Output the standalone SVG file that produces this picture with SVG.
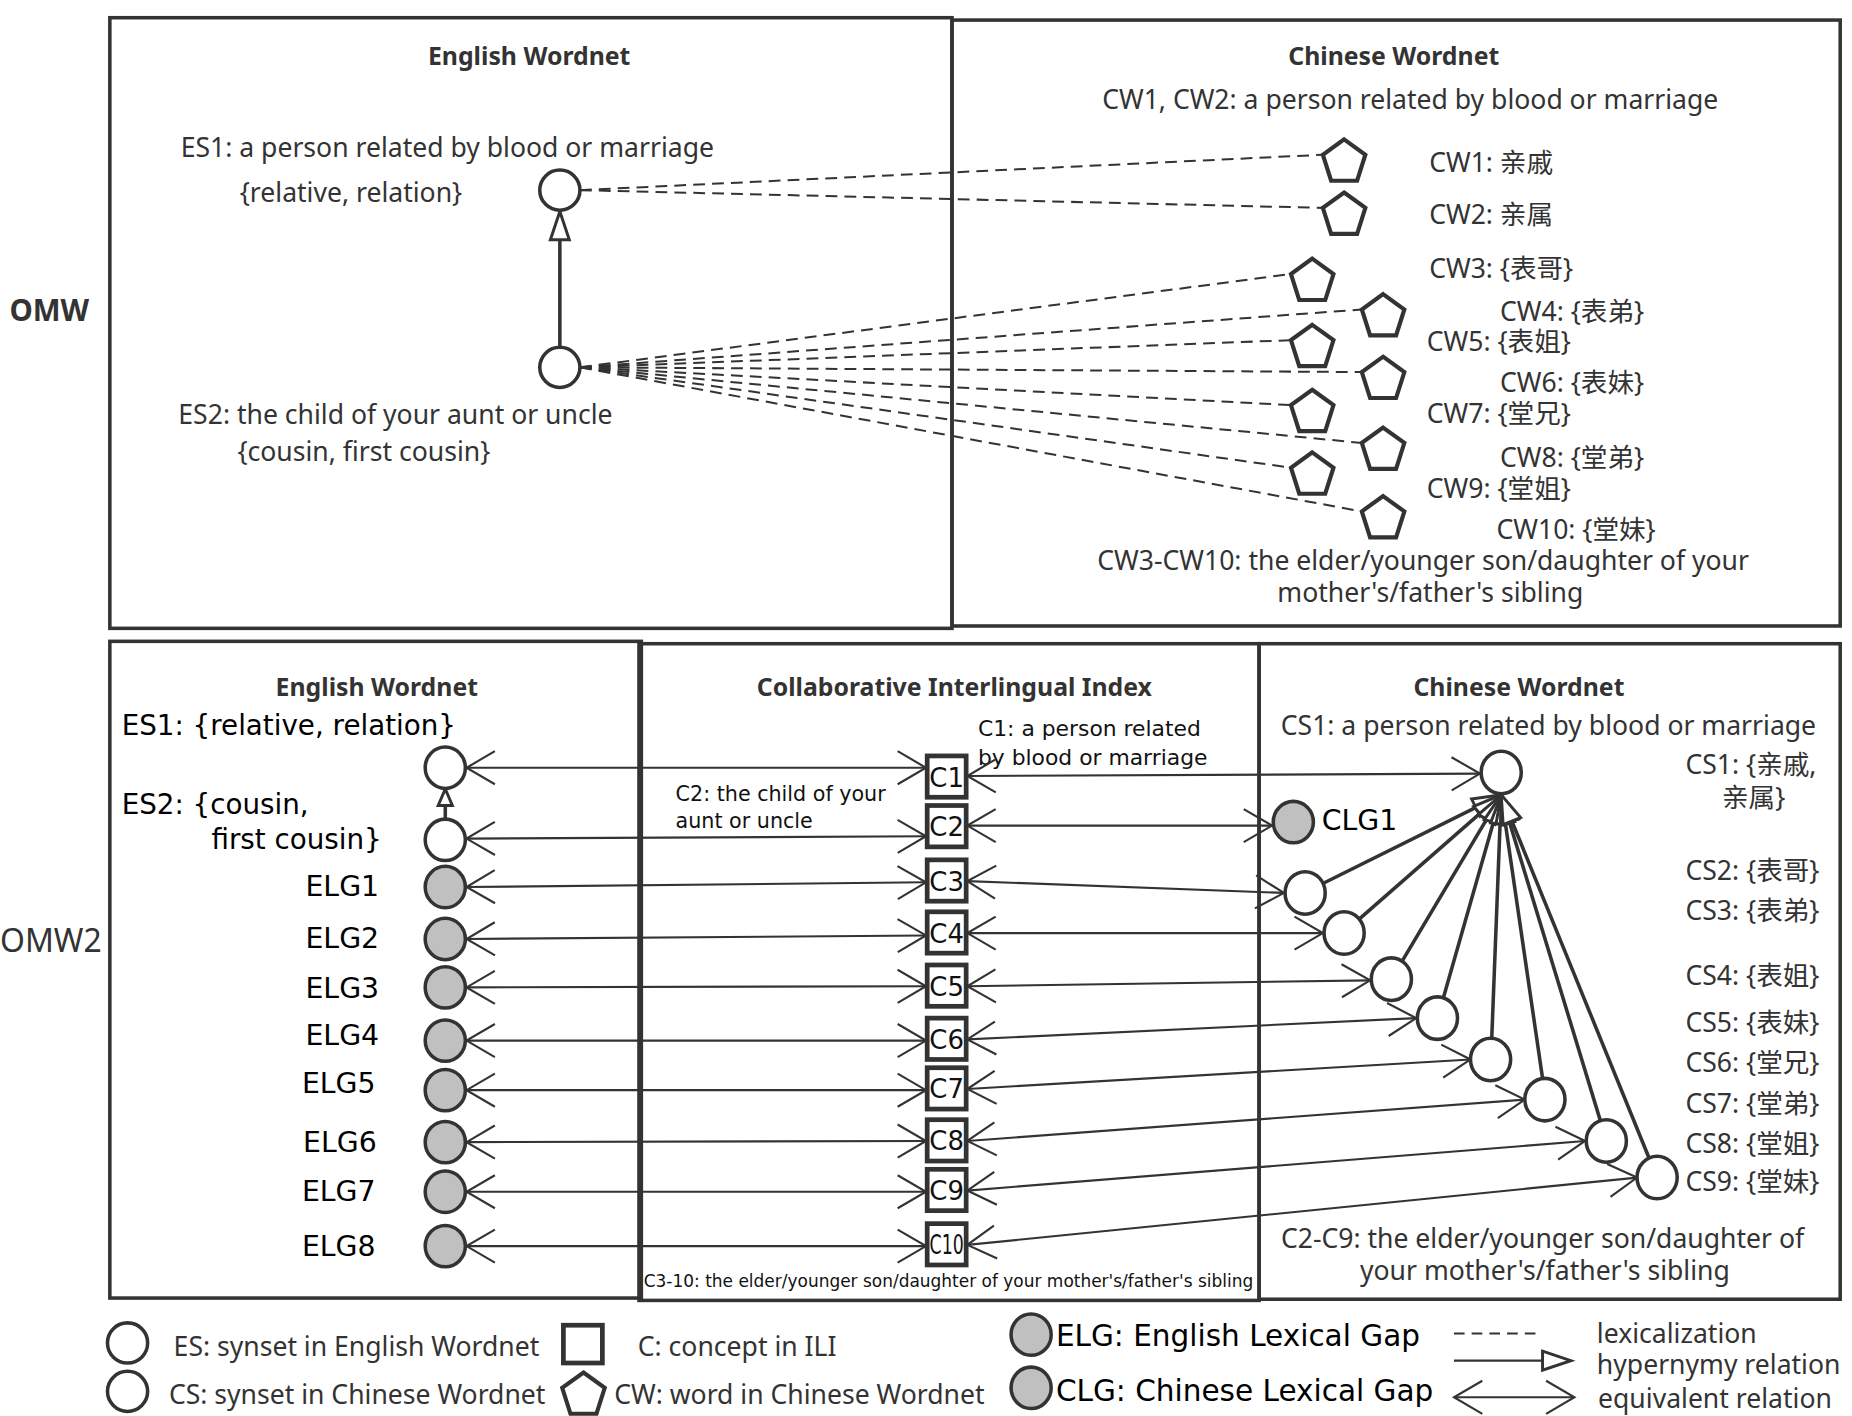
<svg xmlns="http://www.w3.org/2000/svg" xmlns:xlink="http://www.w3.org/1999/xlink" width="1852" height="1416" viewBox="0 0 1852 1416">
<style>
.frame{fill:none;stroke:#333;stroke-width:3}
.node{fill:#fff;stroke:#333;stroke-width:3}
.gap{fill:#c0c0c0;stroke:#333;stroke-width:3}
.cbox{fill:#fff;stroke:#333;stroke-width:4}
.pent{fill:#fff;stroke:#333;stroke-width:3.5;stroke-linejoin:miter}
.dash{fill:none;stroke:#333;stroke-width:1.7;stroke-dasharray:10 6}
.eq{fill:none;stroke:#333;stroke-width:1.8;marker-start:url(#v);marker-end:url(#v)}
.hyp{fill:none;stroke:#333;stroke-width:3;marker-end:url(#tri)}
.t{font-family:"Noto Sans","Noto Sans CJK SC",sans-serif;fill:#333;font-size:22.5px}
.b{font-weight:bold;font-size:21px}
.d{font-family:"DejaVu Sans","Noto Sans CJK SC",sans-serif;fill:#000}
.ctx{font-family:"DejaVu Sans",sans-serif;fill:#111;font-size:22px;text-anchor:middle}
</style>
<defs>
<marker id="v" markerUnits="userSpaceOnUse" viewBox="-30 -20 34 40" markerWidth="34" markerHeight="40" refX="0" refY="0" orient="auto-start-reverse" overflow="visible">
<path d="M-24,-14 L0,0 L-24,14" fill="none" stroke="#333" stroke-width="1.8"/>
</marker>
<marker id="tri" markerUnits="userSpaceOnUse" viewBox="-30 -12 34 24" markerWidth="34" markerHeight="24" refX="0" refY="0" orient="auto" overflow="visible">
<path d="M-24,-8 L0,0 L-24,8 Z" fill="#fff" stroke="#333" stroke-width="2.5"/>
</marker>
<marker id="tris" markerUnits="userSpaceOnUse" viewBox="-20 -10 24 20" markerWidth="24" markerHeight="20" refX="0" refY="0" orient="auto" overflow="visible">
<path d="M-14,-6 L0,0 L-14,6 Z" fill="#fff" stroke="#333" stroke-width="2.5"/>
</marker>
<path id="pg" d="M0,-19 L18,-6 L11,16 L-11,16 L-18,-6 Z"/>
</defs>
<rect width="1852" height="1416" fill="#fff"/>
<g transform="scale(1.18112)">
<g id="frames">
<rect class="frame" x="93" y="15" width="713" height="517"/>
<rect class="frame" x="806" y="17" width="752" height="513"/>
<rect class="frame" x="93" y="543" width="450" height="556"/>
<rect class="frame" x="541" y="545" width="525" height="556"/>
<rect class="frame" x="1066" y="545" width="492" height="555"/>
</g>
<g id="section-labels">
<text class="t" x="8" y="272" style="font-weight:bold;font-size:25px">OMW</text>
<text class="t" x="0" y="806" style="font-size:27px">OMW2</text>
<text class="t b" x="448" y="55" text-anchor="middle">English Wordnet</text>
<text class="t b" x="1180" y="55" text-anchor="middle">Chinese Wordnet</text>
<text class="t" x="1194" y="92" text-anchor="middle">CW1, CW2: a person related by blood or marriage</text>
<text class="t" x="929" y="483">CW3-CW10: the elder/younger son/daughter of your</text>
<text class="t" x="1211" y="510" text-anchor="middle">mother's/father's sibling</text>
<text class="t b" x="319" y="589" text-anchor="middle">English Wordnet</text>
<text class="t b" x="808" y="589" text-anchor="middle">Collaborative Interlingual Index</text>
<text class="t b" x="1286" y="589" text-anchor="middle">Chinese Wordnet</text>
<text class="t" x="1311" y="622" text-anchor="middle">CS1: a person related by blood or marriage</text>
<text class="d" x="828" y="623" style="font-size:18.5px;fill:#111">C1: a person related</text>
<text class="d" x="828" y="648" style="font-size:18.5px;fill:#111">by blood or marriage</text>
<text class="d" x="572" y="678" style="font-size:17.5px;fill:#111">C2: the child of your</text>
<text class="d" x="572" y="701" style="font-size:17.5px;fill:#111">aunt or uncle</text>
<text class="d" x="545" y="1090" style="font-size:15px;fill:#111" textLength="516" lengthAdjust="spacingAndGlyphs">C3-10: the elder/younger son/daughter of your mother's/father's sibling</text>
<text class="t" x="1306" y="1057" text-anchor="middle">C2-C9: the elder/younger son/daughter of</text>
<text class="t" x="1308" y="1084" text-anchor="middle">your mother's/father's sibling</text>
</g>
<g id="connectors">
<line class="dash" x1="491" y1="161" x2="1120" y2="131"/>
<line class="dash" x1="491" y1="161" x2="1120" y2="176"/>
<line class="dash" x1="491" y1="311" x2="1093" y2="232"/>
<line class="dash" x1="491" y1="311" x2="1153" y2="262"/>
<line class="dash" x1="491" y1="311" x2="1093" y2="288"/>
<line class="dash" x1="491" y1="311" x2="1153" y2="315"/>
<line class="dash" x1="491" y1="311" x2="1093" y2="343"/>
<line class="dash" x1="491" y1="311" x2="1153" y2="375"/>
<line class="dash" x1="491" y1="311" x2="1093" y2="396"/>
<line class="dash" x1="491" y1="311" x2="1153" y2="433"/>
<line class="hyp" x1="474" y1="294" x2="474" y2="179"/>
<line fill="none" stroke="#333" stroke-width="3" marker-end="url(#tris)" x1="377" y1="694" x2="377" y2="668"/>
<line class="eq" x1="395" y1="650" x2="784" y2="650"/>
<line class="eq" x1="395" y1="710" x2="784" y2="708"/>
<line class="eq" x1="395" y1="751" x2="784" y2="747"/>
<line class="eq" x1="395" y1="795" x2="784" y2="792"/>
<line class="eq" x1="395" y1="836" x2="784" y2="835"/>
<line class="eq" x1="395" y1="881" x2="784" y2="881"/>
<line class="eq" x1="395" y1="923" x2="784" y2="923"/>
<line class="eq" x1="395" y1="967" x2="784" y2="966"/>
<line class="eq" x1="395" y1="1009" x2="784" y2="1009"/>
<line class="eq" x1="395" y1="1055" x2="784" y2="1055"/>
<line class="eq" x1="819" y1="657" x2="1253" y2="655"/>
<line class="eq" x1="819" y1="699" x2="1077" y2="699"/>
<line class="eq" x1="819" y1="746" x2="1087" y2="756"/>
<line class="eq" x1="819" y1="790" x2="1120" y2="790"/>
<line class="eq" x1="819" y1="835" x2="1160" y2="830"/>
<line class="eq" x1="819" y1="880" x2="1199" y2="862"/>
<line class="eq" x1="819" y1="922" x2="1245" y2="897"/>
<line class="eq" x1="819" y1="966" x2="1291" y2="931"/>
<line class="eq" x1="819" y1="1008" x2="1342" y2="966"/>
<line class="eq" x1="819" y1="1054" x2="1386" y2="997"/>
<line class="hyp" x1="1120" y1="748" x2="1271" y2="673"/>
<line class="hyp" x1="1151" y1="778" x2="1271" y2="673"/>
<line class="hyp" x1="1187" y1="814" x2="1271" y2="673"/>
<line class="hyp" x1="1222" y1="845" x2="1271" y2="673"/>
<line class="hyp" x1="1263" y1="879" x2="1271" y2="673"/>
<line class="hyp" x1="1306" y1="913" x2="1271" y2="673"/>
<line class="hyp" x1="1355" y1="949" x2="1271" y2="673"/>
<line class="hyp" x1="1396" y1="980" x2="1271" y2="673"/>
</g>
<g id="ES1-top"><ellipse class="node" cx="474" cy="161" rx="17" ry="17"/>
<text class="t" x="153" y="133">ES1: a person related by blood or marriage</text>
<text class="t" x="203" y="171">{relative, relation}</text></g>
<g id="ES2-top"><ellipse class="node" cx="474" cy="311" rx="17" ry="17"/>
<text class="t" x="151" y="359">ES2: the child of your aunt or uncle</text>
<text class="t" x="201" y="390">{cousin, first cousin}</text></g>
<g id="CW1"><use href="#pg" class="pent" x="1138" y="137"/><text class="t" x="1210" y="146">CW1: 亲戚</text></g>
<g id="CW2"><use href="#pg" class="pent" x="1138" y="182"/><text class="t" x="1210" y="190">CW2: 亲属</text></g>
<g id="CW3"><use href="#pg" class="pent" x="1111" y="238"/><text class="t" x="1210" y="235">CW3: {表哥}</text></g>
<g id="CW4"><use href="#pg" class="pent" x="1171" y="268"/><text class="t" x="1270" y="272">CW4: {表弟}</text></g>
<g id="CW5"><use href="#pg" class="pent" x="1111" y="294"/><text class="t" x="1208" y="297">CW5: {表姐}</text></g>
<g id="CW6"><use href="#pg" class="pent" x="1171" y="321"/><text class="t" x="1270" y="332">CW6: {表妹}</text></g>
<g id="CW7"><use href="#pg" class="pent" x="1111" y="349"/><text class="t" x="1208" y="358">CW7: {堂兄}</text></g>
<g id="CW8"><use href="#pg" class="pent" x="1171" y="381"/><text class="t" x="1270" y="395">CW8: {堂弟}</text></g>
<g id="CW9"><use href="#pg" class="pent" x="1111" y="402"/><text class="t" x="1208" y="422">CW9: {堂姐}</text></g>
<g id="CW10"><use href="#pg" class="pent" x="1171" y="439"/><text class="t" x="1267" y="456">CW10: {堂妹}</text></g>
<g id="ES1"><ellipse class="node" cx="377" cy="650" rx="17" ry="17.5"/><text class="d" x="103" y="622" font-size="23.5">ES1: {relative, relation}</text></g>
<g id="ES2"><ellipse class="node" cx="377" cy="711" rx="17" ry="17.5"/><text class="d" x="103" y="689" font-size="23.5">ES2: {cousin,</text><text class="d" x="179" y="719" font-size="23.5">first cousin}</text></g>
<g id="ELG1"><ellipse class="gap" cx="377" cy="751" rx="17" ry="17.5"/><text class="d" x="321" y="759" font-size="24" text-anchor="end">ELG1</text></g>
<g id="ELG2"><ellipse class="gap" cx="377" cy="795" rx="17" ry="17.5"/><text class="d" x="321" y="803" font-size="24" text-anchor="end">ELG2</text></g>
<g id="ELG3"><ellipse class="gap" cx="377" cy="836" rx="17" ry="17.5"/><text class="d" x="321" y="845" font-size="24" text-anchor="end">ELG3</text></g>
<g id="ELG4"><ellipse class="gap" cx="377" cy="881" rx="17" ry="17.5"/><text class="d" x="321" y="885" font-size="24" text-anchor="end">ELG4</text></g>
<g id="ELG5"><ellipse class="gap" cx="377" cy="923" rx="17" ry="17.5"/><text class="d" x="318" y="925" font-size="24" text-anchor="end">ELG5</text></g>
<g id="ELG6"><ellipse class="gap" cx="377" cy="967" rx="17" ry="17.5"/><text class="d" x="319" y="975" font-size="24" text-anchor="end">ELG6</text></g>
<g id="ELG7"><ellipse class="gap" cx="377" cy="1009" rx="17" ry="17.5"/><text class="d" x="318" y="1017" font-size="24" text-anchor="end">ELG7</text></g>
<g id="ELG8"><ellipse class="gap" cx="377" cy="1055" rx="17" ry="17.5"/><text class="d" x="318" y="1063" font-size="24" text-anchor="end">ELG8</text></g>
<g id="C1"><rect class="cbox" x="785" y="640" width="33" height="35"/><text class="ctx" x="801.5" y="666">C1</text></g>
<g id="C2"><rect class="cbox" x="785" y="682" width="33" height="35"/><text class="ctx" x="801.5" y="708">C2</text></g>
<g id="C3"><rect class="cbox" x="785" y="728" width="33" height="35"/><text class="ctx" x="801.5" y="754">C3</text></g>
<g id="C4"><rect class="cbox" x="785" y="772" width="33" height="35"/><text class="ctx" x="801.5" y="798">C4</text></g>
<g id="C5"><rect class="cbox" x="785" y="817" width="33" height="35"/><text class="ctx" x="801.5" y="843">C5</text></g>
<g id="C6"><rect class="cbox" x="785" y="862" width="33" height="35"/><text class="ctx" x="801.5" y="888">C6</text></g>
<g id="C7"><rect class="cbox" x="785" y="904" width="33" height="35"/><text class="ctx" x="801.5" y="930">C7</text></g>
<g id="C8"><rect class="cbox" x="785" y="948" width="33" height="35"/><text class="ctx" x="801.5" y="974">C8</text></g>
<g id="C9"><rect class="cbox" x="785" y="990" width="33" height="35"/><text class="ctx" x="801.5" y="1016">C9</text></g>
<g id="C10"><rect class="cbox" x="785" y="1036" width="33" height="35"/><text class="ctx" x="801.5" y="1062" textLength="29" lengthAdjust="spacingAndGlyphs">C10</text></g>
<g id="CS1"><ellipse class="node" cx="1271" cy="654" rx="17" ry="18"/><text class="t" x="1427" y="655">CS1: {亲戚,</text><text class="t" x="1458" y="683">亲属}</text></g>
<g id="CLG1"><ellipse class="gap" cx="1095" cy="696" rx="17" ry="17.5"/><text class="d" x="1119" y="703" font-size="24">CLG1</text></g>
<g id="CS2"><ellipse class="node" cx="1105" cy="756" rx="17" ry="18"/><text class="t" x="1427" y="745">CS2: {表哥}</text></g>
<g id="CS3"><ellipse class="node" cx="1138" cy="790" rx="17" ry="18"/><text class="t" x="1427" y="779">CS3: {表弟}</text></g>
<g id="CS4"><ellipse class="node" cx="1178" cy="829" rx="17" ry="18"/><text class="t" x="1427" y="834">CS4: {表姐}</text></g>
<g id="CS5"><ellipse class="node" cx="1217" cy="862" rx="17" ry="18"/><text class="t" x="1427" y="874">CS5: {表妹}</text></g>
<g id="CS6"><ellipse class="node" cx="1262" cy="897" rx="17" ry="18"/><text class="t" x="1427" y="908">CS6: {堂兄}</text></g>
<g id="CS7"><ellipse class="node" cx="1308" cy="931" rx="17" ry="18"/><text class="t" x="1427" y="942">CS7: {堂弟}</text></g>
<g id="CS8"><ellipse class="node" cx="1360" cy="966" rx="17" ry="18"/><text class="t" x="1427" y="976">CS8: {堂姐}</text></g>
<g id="CS9"><ellipse class="node" cx="1403" cy="997" rx="17" ry="18"/><text class="t" x="1427" y="1008">CS9: {堂妹}</text></g>
<g id="legend">
<ellipse class="node" cx="108" cy="1137" rx="17" ry="17"/>
<text class="t" x="147" y="1148">ES: synset in English Wordnet</text>
<ellipse class="node" cx="108" cy="1178" rx="17" ry="17"/>
<text class="t" x="143" y="1189">CS: synset in Chinese Wordnet</text>
<rect class="cbox" x="477" y="1122" width="33" height="32"/>
<text class="t" x="540" y="1148">C: concept in ILI</text>
<use href="#pg" class="pent" x="494" y="1181"/>
<text class="t" x="520" y="1189">CW: word in Chinese Wordnet</text>
<ellipse class="gap" cx="873" cy="1130" rx="17" ry="17.5"/>
<text class="d" x="894" y="1140" font-size="25">ELG: English Lexical Gap</text>
<ellipse class="gap" cx="873" cy="1175" rx="17" ry="17.5"/>
<text class="d" x="894" y="1186" font-size="25">CLG: Chinese Lexical Gap</text>
<line x1="1231" y1="1129" x2="1303" y2="1129" stroke="#333" stroke-width="1.8" stroke-dasharray="9 6"/>
<text class="t" x="1352" y="1137">lexicalization</text>
<line x1="1231" y1="1152" x2="1330" y2="1152" stroke="#333" stroke-width="1.8" marker-end="url(#tri)"/>
<text class="t" x="1352" y="1163">hypernymy relation</text>
<line class="eq" x1="1231" y1="1183" x2="1333" y2="1183"/>
<text class="t" x="1353" y="1192">equivalent relation</text>
</g>
</g>
</svg>
